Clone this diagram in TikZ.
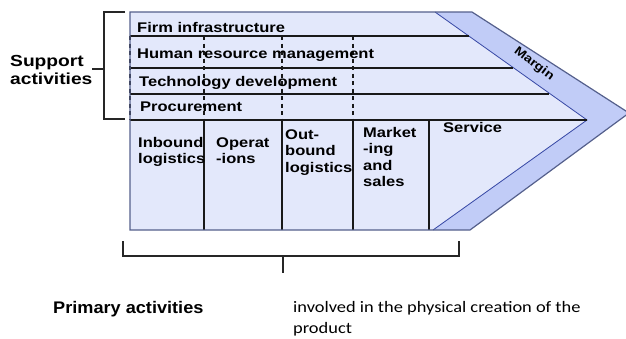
\documentclass[tikz,border=0pt]{standalone}
\usepackage{fontspec}
\setmainfont{Liberation Sans}
\newfontfamily\boxfont[FakeStretch=1.18]{Liberation Sans}
\newfontfamily\supfont[FakeStretch=1.2]{Liberation Sans}
\newfontfamily\primfont[FakeStretch=1.08]{Liberation Sans}
\newfontfamily\calfont[FakeStretch=1.15]{Carlito}
\definecolor{lav}{RGB}{227,232,251}
\definecolor{marg}{RGB}{193,204,247}
\definecolor{outl}{RGB}{85,96,140}
\definecolor{diag}{RGB}{55,72,165}
\tikzset{
  boxtxt/.style={anchor=base west, inner sep=0pt, align=left,
     font=\boxfont\bfseries\fontsize{14}{16.6}\selectfont},
  rowline/.style={line width=1.3pt, black!90},
  colline/.style={line width=1.3pt, black!90},
  dashline/.style={line width=1.1pt, black!90, dash pattern=on 4pt off 3.5pt},
  brack/.style={line width=1.5pt, black!85},
}
\begin{document}
\begin{tikzpicture}[x=1pt,y=-1pt]
\useasboundingbox (0,0) rectangle (626,338);
% key points
\coordinate (TL) at (130,12);
\coordinate (TI) at (435,12);
\coordinate (TO) at (472,12);
\coordinate (TIP) at (629,113);
\coordinate (MI) at (587,120);
\coordinate (BO) at (470,230);
\coordinate (BI) at (433,230);
\coordinate (BL) at (130,230);
% fills
\fill[lav] (TL) -- (TI) -- (MI) -- (BI) -- (BL) -- cycle;
\fill[marg] (TI) -- (TO) -- (TIP) -- (BO) -- (BI) -- (MI) -- cycle;
% inner diagonal
\draw[diag, line width=0.8pt] (TI) -- (MI) -- (BI);
% support rows
\draw[rowline] (130,36) -- (468.5,36);
\draw[rowline] (130,68) -- (513,68);
\draw[rowline] (130,94) -- (549,94);
\draw[rowline] (130,120) -- (MI);
% dashed verticals
\foreach \xx in {130,204,282,353}
  \draw[dashline] (\xx,36) -- (\xx,120);
% primary verticals
\foreach \xx in {204,282,353,429}
  \draw[colline] (\xx,120) -- (\xx,230);
% outline
\draw[outl, line width=1.2pt, line join=miter] (TL) -- (TO) -- (TIP) -- (BO) -- (BL) -- cycle;
% support texts
\node[boxtxt] (fi) at (137,32) {Firm infrastructure};
\node[boxtxt] (hr) at (137,58) {Human resource management};
\node[boxtxt] (td) at (139,86) {Technology development};
\node[boxtxt] (pr) at (140,111) {Procurement};
% primary texts (anchored at the baseline of the last line)
\node[boxtxt] (ib) at (138,163.6) {Inbound\\logistics};
\node[boxtxt] (op) at (216,163.6) {Operat\\-ions};
\node[boxtxt] (ob) at (285,172.2) {Out-\\bound\\logistics};
\node[boxtxt] (ms) at (363,186.8) {Market\\-ing\\and\\sales};
\node[boxtxt] (sv) at (443,132) {Service};
% margin label
\node[inner sep=0pt, rotate=-37, font=\boxfont\bfseries\fontsize{12}{14}\selectfont] (mg) at (534,64) {Margin};
% support bracket
\coordinate (sb1) at (125,12);
\coordinate (sb2) at (104,12);
\coordinate (sb3) at (104,119);
\coordinate (sb4) at (125,119);
\coordinate (sbm) at (104,69);
\coordinate (sbt) at (92,69);
\draw[brack] (sb1) -- (sb2) -- (sb3) -- (sb4);
\draw[brack] (sbm) -- (sbt);
\node[anchor=base west, inner sep=0pt, align=left,
  font=\supfont\bfseries\fontsize{16}{18}\selectfont] (sa) at (10,84) {Support\\activities};
% primary bracket
\coordinate (pb1) at (123,241);
\coordinate (pb2) at (123,256);
\coordinate (pb3) at (459,256);
\coordinate (pb4) at (459,241);
\coordinate (pbm) at (283,256);
\coordinate (pbt) at (283,273);
\draw[brack] (pb1) -- (pb2) -- (pb3) -- (pb4);
\draw[brack] (pbm) -- (pbt);
\node[anchor=base west, inner sep=0pt,
  font=\primfont\bfseries\fontsize{16.8}{20}\selectfont] (pa) at (53,313) {Primary activities};
\node[anchor=base west, inner sep=0pt, align=left,
  font=\calfont\fontsize{16}{21}\selectfont] (inv) at (293,333) {involved in the physical creation of the\\product};
\end{tikzpicture}
\end{document}
